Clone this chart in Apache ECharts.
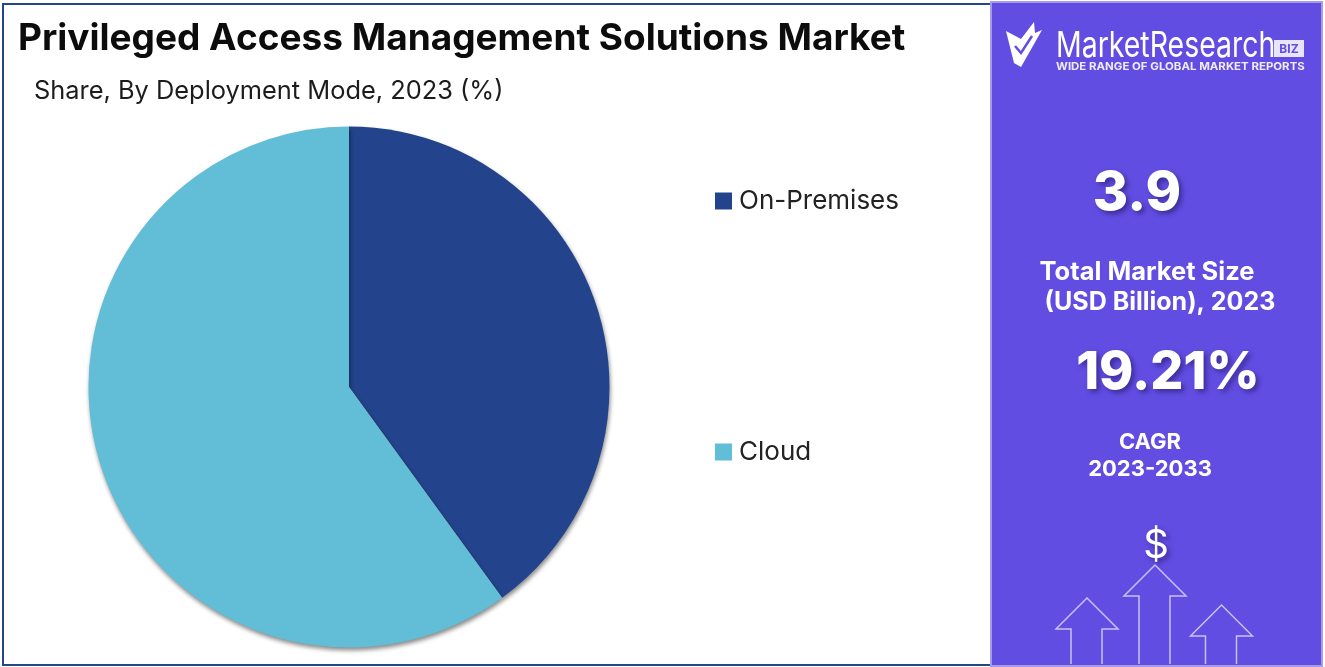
<!DOCTYPE html>
<html>
<head>
<meta charset="utf-8">
<style>
  html, body { margin: 0; padding: 0; background: #fff; }
  #main { width: 1325px; height: 667px; }
</style>
<script src="https://cdn.jsdelivr.net/npm/echarts@6/dist/echarts.min.js"></script>
</head>
<body>
<div id="main"></div>
<script>
const categories = ['On-Premises', 'Cloud'];
const shares = [40, 60];
const sliceColors = ['#23448c', '#62bdd6'];
const titleText = 'Privileged Access Management Solutions Market';
const subtitleText = 'Share, By Deployment Mode, 2023 (%)';
const marketSize = '3.9';
const marketLabel = ['Total Market Size', ' (USD Billion), 2023'];
const cagrValue = '19.21%';
const cagrLabel = ['CAGR', '2023-2033'];

const fontName = 'Inter, "Noto Sans", sans-serif';
const panelColor = '#624de3';
const lineColor = 'rgba(255,255,255,0.65)';

var myChart = echarts.init(document.getElementById('main'));

function panelText(text, x, y, size, weight, shadow) {
  return {
    type: 'text',
    z: 10,
    style: {
      text: text,
      x: x,
      y: y,
      fill: '#fff',
      font: weight + ' ' + size + 'px ' + fontName,
      textAlign: 'center',
      textVerticalAlign: 'middle',
      textShadowColor: shadow ? 'rgba(30,20,90,0.55)' : 'transparent',
      textShadowBlur: shadow ? 5 : 0,
      textShadowOffsetX: shadow ? 3 : 0,
      textShadowOffsetY: shadow ? 3 : 0
    }
  };
}

// one outlined arrow on the side panel
function arrow(apexX, apexY) {
  return [
    {
      type: 'polyline',
      z: 10,
      shape: {
        points: [
          [apexX - 16, 664], [apexX - 16, apexY + 31], [apexX - 31, apexY + 31],
          [apexX, apexY], [apexX + 31, apexY + 31], [apexX + 15, apexY + 31], [apexX + 15, 664]
        ]
      },
      style: { stroke: lineColor, lineWidth: 1.5, fill: 'none' }
    }
  ];
}

var option = {
  animation: false,
  backgroundColor: '#fff',
  title: [
    {
      text: titleText,
      left: 13,
      top: 15,
      textStyle: { fontFamily: fontName, fontSize: 37, fontWeight: 'bold', color: '#0c0c0c' }
    },
    {
      text: subtitleText,
      left: 29,
      top: 74,
      textStyle: { fontFamily: fontName, fontSize: 25.4, fontWeight: 'normal', color: '#1c1c1c' }
    }
  ],
  legend: {
    orient: 'vertical',
    left: 710,
    top: 183,
    data: categories,
    icon: 'rect',
    itemWidth: 17,
    itemHeight: 17,
    itemGap: 225,
    selectedMode: false,
    textStyle: { fontFamily: fontName, fontSize: 26, color: '#222', padding: [0, 0, 0, 2] }
  },
  series: [
    {
      type: 'pie',
      center: [349, 387],
      radius: [0, 260.5],
      startAngle: 90,
      label: { show: false },
      labelLine: { show: false },
      silent: true,
      itemStyle: {
        shadowBlur: 4,
        shadowOffsetX: 1,
        shadowOffsetY: 3,
        shadowColor: 'rgba(0,0,0,0.45)'
      },
      data: categories.map((name, i) => ({
        name: name,
        value: shares[i],
        itemStyle: { color: sliceColors[i] }
      }))
    }
  ],
  graphic: [
    // frame around the chart area
    {
      type: 'rect',
      z: 5,
      shape: { x: 3, y: 4, width: 988, height: 661 },
      style: { fill: 'none', stroke: '#24458c', lineWidth: 2 }
    },
    // side panel
    {
      type: 'rect',
      z: 6,
      shape: { x: 991, y: 2, width: 331, height: 664 },
      style: { fill: panelColor, stroke: '#a79bee', lineWidth: 2 }
    },
    // logo mark
    {
      type: 'polygon',
      z: 10,
      shape: {
        points: [[1006, 31], [1021, 39], [1034, 22], [1035, 33], [1042, 30], [1021, 67], [1014, 63]]
      },
      style: { fill: '#fff' }
    },
    {
      type: 'polyline',
      z: 11,
      shape: { points: [[1015, 46], [1021, 53], [1032, 36]] },
      style: { stroke: panelColor, lineWidth: 2.5, fill: 'none' }
    },
    {
      type: 'text',
      z: 10,
      x: 1056,
      y: 46,
      scaleX: 0.79,
      style: {
        text: 'MarketResearch',
        fill: '#fff',
        font: 'normal 36px ' + fontName,
        textAlign: 'left',
        textVerticalAlign: 'middle'
      }
    },
    {
      type: 'rect',
      z: 10,
      shape: { x: 1274, y: 40, width: 30, height: 17 },
      style: { fill: '#fff', opacity: 0.85 }
    },
    {
      type: 'text',
      z: 11,
      style: {
        text: 'BIZ',
        x: 1289,
        y: 49,
        fill: panelColor,
        font: 'bold 12px ' + fontName,
        textAlign: 'center',
        textVerticalAlign: 'middle'
      }
    },
    {
      type: 'text',
      z: 10,
      x: 1056,
      y: 67,
      scaleX: 1.09,
      style: {
        text: 'WIDE RANGE OF GLOBAL MARKET REPORTS',
        fill: 'rgba(255,255,255,0.9)',
        font: 'bold 10.5px ' + fontName,
        textAlign: 'left',
        textVerticalAlign: 'middle'
      }
    },
    panelText(marketSize, 1137, 194, 54, 800, true),
    panelText(marketLabel[0], 1147, 272, 25.5, 'bold', false),
    panelText(marketLabel[1], 1157, 302, 25, 'bold', false),
    panelText(cagrValue, 1168, 373, 52, 800, true),
    panelText(cagrLabel[0], 1150, 442, 22, 'bold', false),
    panelText(cagrLabel[1], 1150, 469, 22, 'bold', false),
    panelText('$', 1156, 546, 40, 'normal', true)
  ]
    .concat(arrow(1087, 598))
    .concat(arrow(1155, 565))
    .concat(arrow(1221.5, 605))
};

option && myChart.setOption(option);
</script>
</body>
</html>
